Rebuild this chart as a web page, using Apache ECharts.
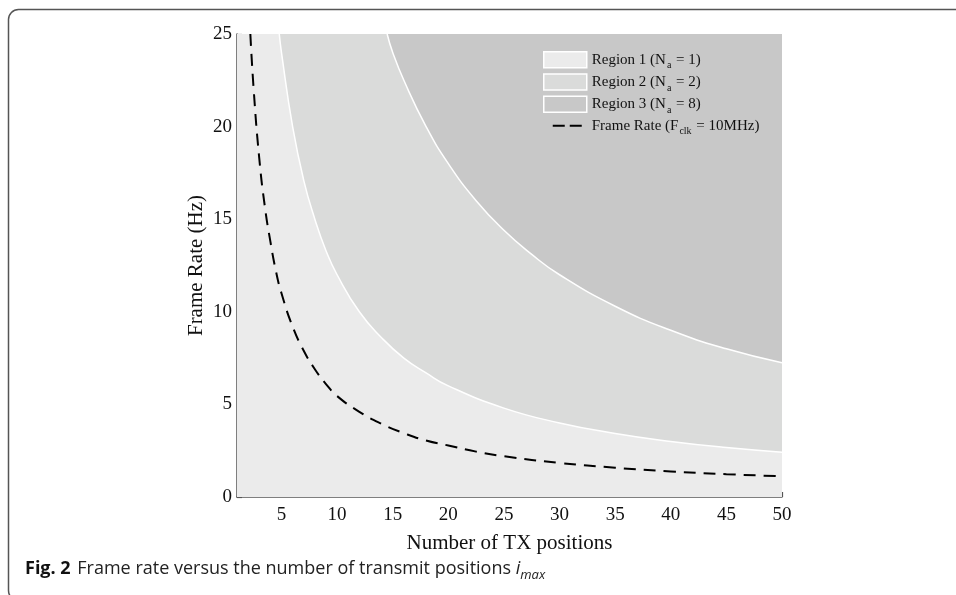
<!DOCTYPE html>
<html>
<head>
<meta charset="utf-8">
<script src="https://cdn.jsdelivr.net/npm/echarts@6/dist/echarts.min.js"></script>
<style>
  html, body { margin: 0; padding: 0; background: #fff; }
  #chart { width: 956px; height: 595px; }
</style>
</head>
<body>
<div id="chart"></div>
<script>
// x ticks shown on the axis
const xTicks = [5, 10, 15, 20, 25, 30, 35, 40, 45, 50]

// frame rate curve (F_clk = 10MHz)
const frameX = [2.2, 2.5, 3, 3.5, 4, 4.5, 5, 6, 7, 8, 9, 10, 12, 14, 16, 18, 20, 22.5, 25, 30, 35, 40, 45, 50]
const frameY = [25, 22, 18.3, 15.7, 13.8, 12.2, 11, 9.2, 7.9, 6.9, 6.1, 5.45, 4.6, 3.95, 3.45, 3.05, 2.78, 2.45, 2.2, 1.84, 1.58, 1.38, 1.23, 1.12]

// boundary between region 1 and region 2
const r2X = [4.8, 5, 6, 7, 8, 9, 10, 12, 14, 16, 18, 20, 25, 30, 35, 40, 45, 50]
const r2Y = [25, 24, 20, 17.1, 15, 13.3, 12, 10, 8.6, 7.5, 6.7, 6, 4.8, 4, 3.43, 3, 2.67, 2.42]

// boundary between region 2 and region 3
const r3X = [14.5, 15, 16, 18, 20, 22.5, 25, 27.5, 30, 35, 40, 45, 50]
const r3Y = [25, 24, 22.5, 20, 18, 16, 14.4, 13.1, 12, 10.3, 9, 8, 7.25]

// region 1 lies under everything: the whole plot, x 1..50 up to 25 Hz
const r1X = [1, 50]
const r1Y = [25, 25]

const zip = (xs, ys) => xs.map((x, i) => [x, ys[i]])

const colors = { r1: '#ebebeb', r2: '#dadbda', r3: '#c8c8c8' }
const serif = 'Liberation Serif'
// two short dashes for the frame rate legend entry (43 x 16 box)
const dashIcon = 'path://M0,0L0.05,0L0.05,0.05Z M43,16L42.95,16L42.95,15.95Z M9,7L21,7L21,9L9,9Z M26,7L38,7L38,9L26,9Z'

let myChart = echarts.init(document.getElementById('chart'))

let option = {
  animation: false,
  backgroundColor: '#fff',
  grid: { left: 237, right: 174, top: 34, bottom: 98 },
  legend: {
    orient: 'vertical',
    left: 543,
    top: 51,
    padding: 0,
    itemWidth: 43,
    itemHeight: 16,
    itemGap: 2.5,
    textStyle: {
      fontFamily: serif,
      fontSize: 15,
      color: '#111',
      rich: {
        t: { fontFamily: serif, fontSize: 15, color: '#111', lineHeight: 22, verticalAlign: 'middle' },
        s: { fontFamily: serif, fontSize: 10, color: '#111', lineHeight: 22, verticalAlign: 'bottom', padding: [0, 1, 0, 1] }
      }
    },
    formatter: function (name) {
      if (name === 'r1') return '{t|Region 1 (N}{s|a}{t| = 1)}'
      if (name === 'r2') return '{t|Region 2 (N}{s|a}{t| = 2)}'
      if (name === 'r3') return '{t|Region 3 (N}{s|a}{t| = 8)}'
      return '{t|Frame Rate (F}{s|clk}{t| = 10MHz)}'
    },
    data: [
      { name: 'r1', icon: 'rect', itemStyle: { color: colors.r1, borderColor: '#fff', borderWidth: 1.5 } },
      { name: 'r2', icon: 'rect', itemStyle: { color: colors.r2, borderColor: '#fff', borderWidth: 1.5 } },
      { name: 'r3', icon: 'rect', itemStyle: { color: colors.r3, borderColor: '#fff', borderWidth: 1.5 } },
      { name: 'fr', icon: dashIcon, itemStyle: { color: '#000', borderWidth: 0 } }
    ]
  },
  xAxis: {
    type: 'value',
    min: 1,
    max: 50,
    name: 'Number of TX positions',
    nameLocation: 'middle',
    nameGap: 36,
    nameMoveOverlap: false,
    nameTextStyle: { fontFamily: serif, fontSize: 21, color: '#111' },
    axisLine: { lineStyle: { color: '#555', width: 1.5 } },
    axisTick: { inside: true, length: 5, customValues: xTicks, lineStyle: { color: '#555', width: 1.2 } },
    axisLabel: { customValues: xTicks, fontFamily: serif, fontSize: 19, color: '#111', margin: 9 },
    splitLine: { show: false }
  },
  yAxis: {
    type: 'value',
    min: 0,
    max: 25,
    interval: 5,
    name: 'Frame Rate (Hz)',
    nameLocation: 'middle',
    nameGap: 30,
    nameMoveOverlap: false,
    nameTextStyle: { fontFamily: serif, fontSize: 21, color: '#111' },
    axisLine: { show: true, lineStyle: { color: '#555', width: 1.5 } },
    axisTick: { show: true, inside: true, length: 5, lineStyle: { color: '#555', width: 1.2 } },
    axisLabel: { fontFamily: serif, fontSize: 19, color: '#111', margin: 5 },
    splitLine: { show: false }
  },
  series: [
    {
      name: 'r1',
      type: 'line',
      data: zip(r1X, r1Y),
      symbol: 'none',
      color: colors.r1,
      lineStyle: { width: 0 },
      areaStyle: { color: colors.r1, opacity: 1, origin: 'start' }
    },
    {
      name: 'r2',
      type: 'line',
      data: zip(r2X, r2Y),
      smooth: 0.5,
      symbol: 'none',
      color: colors.r2,
      lineStyle: { color: '#fff', width: 1.5 },
      areaStyle: { color: colors.r2, opacity: 1, origin: 'end' }
    },
    {
      name: 'r3',
      type: 'line',
      data: zip(r3X, r3Y),
      smooth: 0.5,
      symbol: 'none',
      color: colors.r3,
      lineStyle: { color: '#fff', width: 1.5 },
      areaStyle: { color: colors.r3, opacity: 1, origin: 'end' }
    },
    {
      name: 'fr',
      type: 'line',
      data: zip(frameX, frameY),
      smooth: 0.5,
      symbol: 'none',
      color: '#000',
      lineStyle: { color: '#000', width: 2, type: [12, 8] }
    }
  ],
  graphic: [
    {
      // rounded frame round the figure
      type: 'rect',
      shape: { x: 8.5, y: 9.5, width: 1000, height: 591, r: 10 },
      style: { fill: 'none', stroke: '#555', lineWidth: 1.5 },
      silent: true
    },
    {
      type: 'text',
      left: 25,
      top: 560,
      style: {
        text: '{b|Fig. 2}  {n|Frame rate versus the number of transmit positions }{i|i}{m|max}',
        rich: {
          b: { fontFamily: 'Open Sans', fontWeight: 'bold', fontSize: 18, fill: '#111', lineHeight: 26, verticalAlign: 'middle' },
          n: { fontFamily: 'Open Sans', fontSize: 18, fill: '#222', lineHeight: 26, verticalAlign: 'middle' },
          i: { fontFamily: 'Open Sans', fontStyle: 'italic', fontSize: 18, fill: '#222', lineHeight: 26, verticalAlign: 'middle' },
          m: { fontFamily: 'Open Sans', fontStyle: 'italic', fontSize: 13, fill: '#222', lineHeight: 26, verticalAlign: 'bottom' }
        }
      }
    }
  ]
}

myChart.setOption(option)
</script>
</body>
</html>
